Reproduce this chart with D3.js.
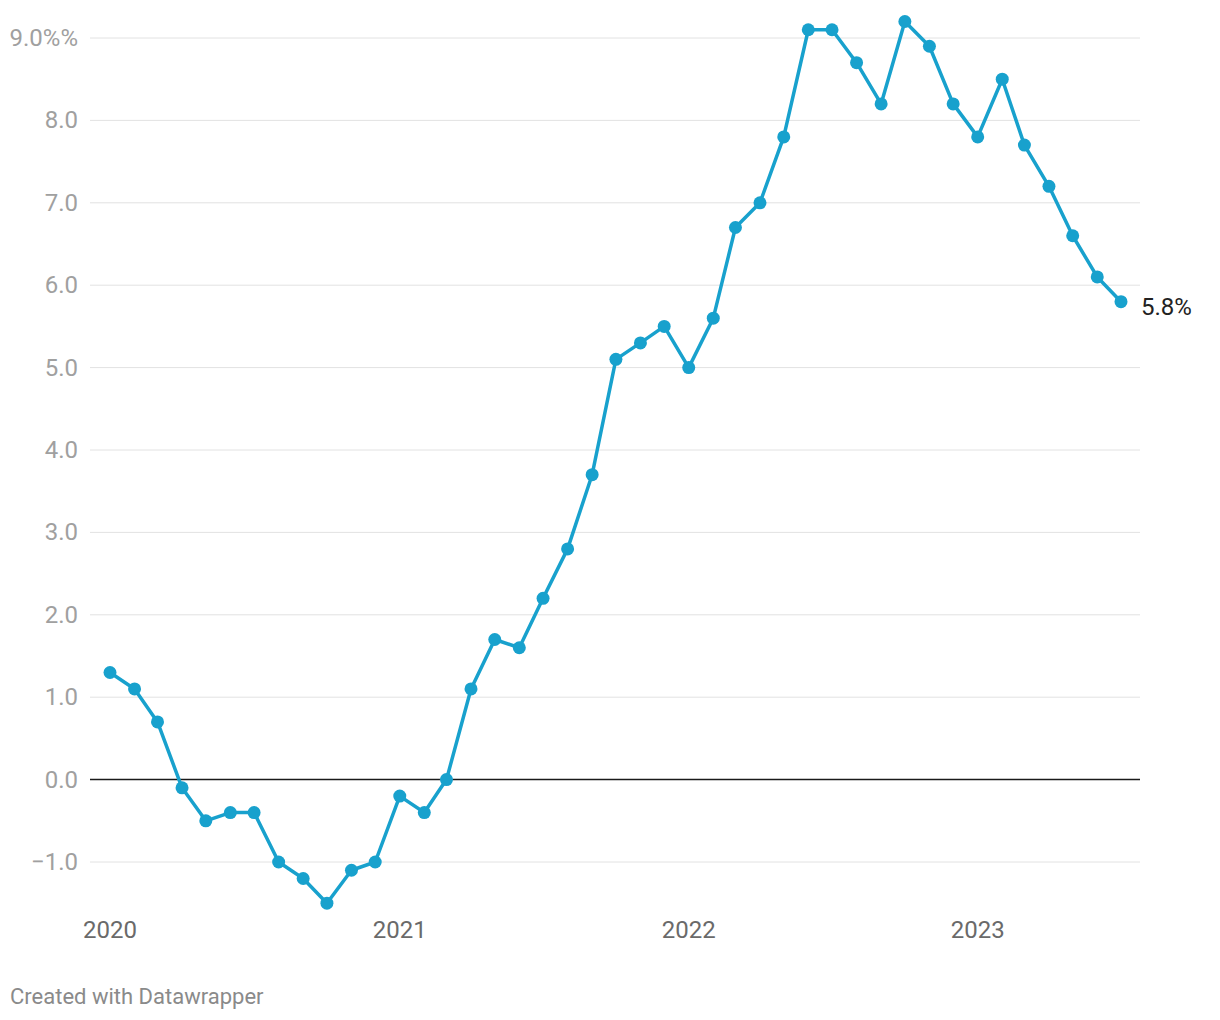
<!DOCTYPE html>
<html>
<head>
<meta charset="utf-8">
<style>
body{ margin:0; background:#fff; font-family: Roboto, sans-serif; }
.grid line{ stroke:#e2e2e2; stroke-width:1; }
.ylab{ fill:#a0a0a0; font-size:24px; }
.xlab{ fill:#6a6a6a; font-size:24px; }
.credit{ fill:#8a8a8a; font-size:22px; }
</style>
</head>
<body>
<svg id="chart"></svg>
<script src="https://d3js.org/d3.v7.min.js"></script>
<script>
var months = [];
for (var y = 2020; y <= 2023; y++) {
    for (var m = 0; m < 12; m++) {
        if (y == 2023 && m > 6) break;
        months.push(new Date(y, m, 1));
    }
}
var values = [1.3, 1.1, 0.7, -0.1, -0.5, -0.4, -0.4, -1.0, -1.2, -1.5, -1.1, -1.0,
              -0.2, -0.4, 0.0, 1.1, 1.7, 1.6, 2.2, 2.8, 3.7, 5.1, 5.3, 5.5,
              5.0, 5.6, 6.7, 7.0, 7.8, 9.1, 9.1, 8.7, 8.2, 9.2, 8.9, 8.2,
              7.8, 8.5, 7.7, 7.2, 6.6, 6.1, 5.8];
var yTicks = [-1, 0, 1, 2, 3, 4, 5, 6, 7, 8, 9];
var xTicks = [2020, 2021, 2022, 2023];
var credit = "Created with Datawrapper";

var W = 1220, H = 1020;
var svg = d3.select("#chart").attr("width", W).attr("height", H);

var data = months.map(function(d, i){ return {date: d, v: values[i]}; });

var x = d3.scaleTime()
    .domain([new Date(2020, 0, 1), new Date(2023, 6, 1)])
    .range([110, 1121]);
var yscale = d3.scaleLinear()
    .domain([-1, 9])
    .range([862, 38]);

// gridlines
var grid = svg.append("g").attr("class", "grid");
grid.selectAll("line")
    .data(yTicks.filter(function(d){ return d != 0; }))
    .enter().append("line")
    .attr("x1", 90).attr("x2", 1140)
    .attr("y1", function(d){ return yscale(d); })
    .attr("y2", function(d){ return yscale(d); });

svg.append("line")
    .attr("x1", 90).attr("x2", 1140)
    .attr("y1", yscale(0)).attr("y2", yscale(0))
    .attr("stroke", "#1a1a1a").attr("stroke-width", 1.5);

svg.selectAll("text.ylab")
    .data(yTicks)
    .enter().append("text")
    .attr("class", "ylab")
    .attr("x", 78)
    .attr("y", function(d){ return yscale(d) + 8; })
    .attr("text-anchor", "end")
    .text(function(d){
        var s = d.toFixed(1).replace("-", "\u2212");
        return d == 9 ? s + "%%" : s;
    });

svg.selectAll("text.xlab")
    .data(xTicks)
    .enter().append("text")
    .attr("class", "xlab")
    .attr("x", function(d){ return x(new Date(d, 0, 1)); })
    .attr("y", 938)
    .attr("text-anchor", "middle")
    .text(function(d){ return d; });

var line = d3.line()
    .x(function(d){ return x(d.date); })
    .y(function(d){ return yscale(d.v); });

svg.append("path")
    .datum(data)
    .attr("fill", "none")
    .attr("stroke", "#18a1cd")
    .attr("stroke-width", 3.5)
    .attr("stroke-linejoin", "round")
    .attr("d", line);

svg.selectAll("circle")
    .data(data)
    .enter().append("circle")
    .attr("cx", function(d){ return x(d.date); })
    .attr("cy", function(d){ return yscale(d.v); })
    .attr("r", 6.5)
    .attr("fill", "#18a1cd");

var last = data[data.length - 1];
svg.append("text")
    .attr("x", x(last.date) + 20)
    .attr("y", yscale(last.v) + 13)
    .attr("font-size", 24)
    .attr("fill", "#222")
    .text(last.v.toFixed(1) + "%");

svg.append("text")
    .attr("class", "credit")
    .attr("x", 10)
    .attr("y", 1004)
    .text(credit);
</script>
</body>
</html>
